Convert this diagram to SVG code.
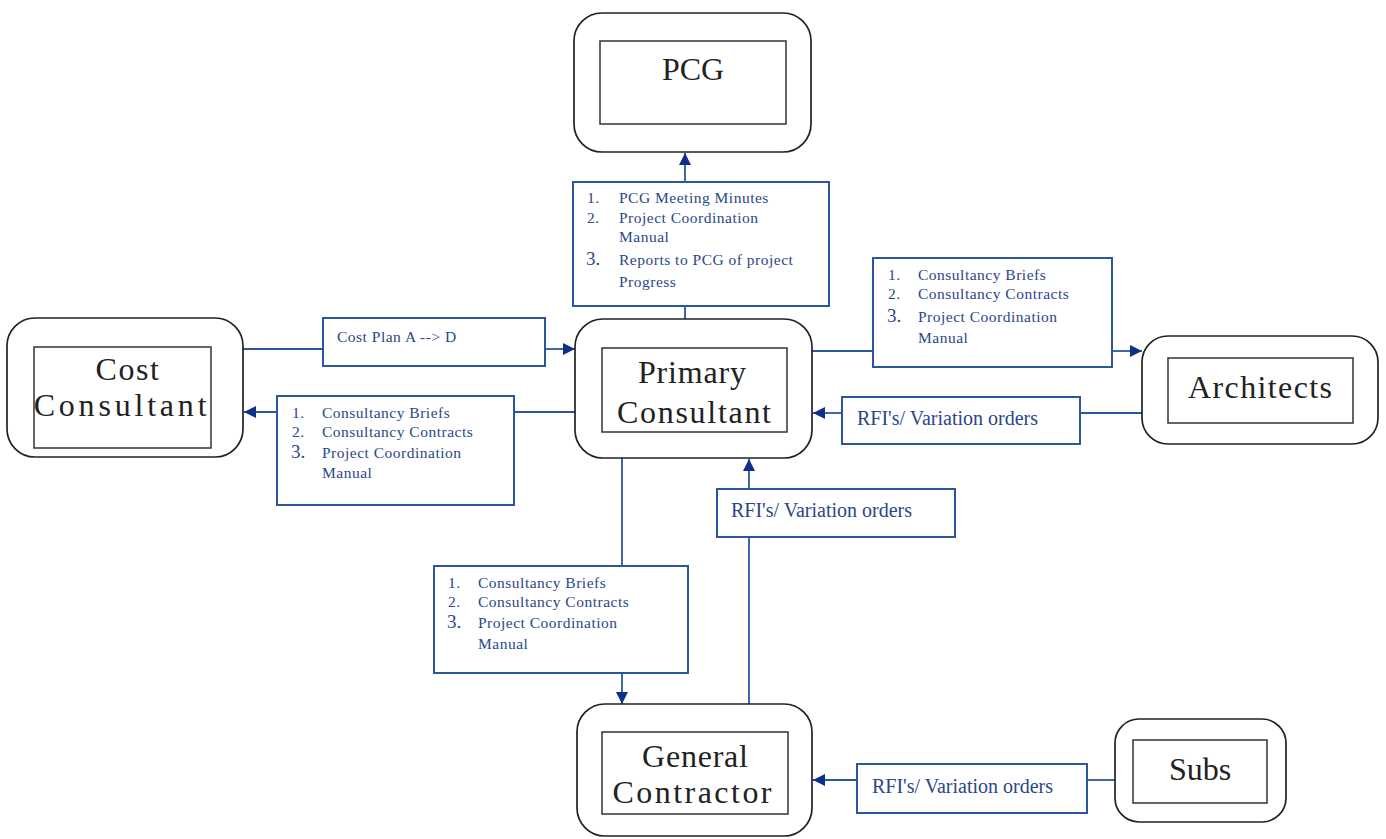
<svg xmlns="http://www.w3.org/2000/svg" width="1386" height="839" viewBox="0 0 1386 839">
<style>
.outer{fill:#fff;stroke:#222;stroke-width:1.7}
.inner{fill:#fff;stroke:#333;stroke-width:1.5}
.nt{font-family:"Liberation Serif",serif;font-size:32px;fill:#222;text-anchor:middle}
.lb{fill:#fff;stroke:#2a56a0;stroke-width:2}
.lt{font-family:"Liberation Serif",serif;font-size:15.5px;fill:#2a4789;letter-spacing:0.5px}
.n3{font-size:19px;letter-spacing:0}
.rt{font-family:"Liberation Serif",serif;font-size:20px;fill:#2a4789}
.cn{stroke:#2a56a0;stroke-width:1.8;fill:none}
</style>
<defs>
<marker id="ah" markerWidth="14" markerHeight="14" refX="12" refY="6" orient="auto" markerUnits="userSpaceOnUse">
<path d="M0,0 L12,6 L0,12 Z" fill="#0f2f8c"/>
</marker>
</defs>
<rect width="1386" height="839" fill="#fff"/>
<g id="connectors">
<line class="cn" x1="685" y1="182" x2="685" y2="153" marker-end="url(#ah)"/>
<line class="cn" x1="685" y1="319" x2="685" y2="306"/>
<line class="cn" x1="243" y1="349" x2="323" y2="349"/>
<line class="cn" x1="545" y1="349" x2="575" y2="349" marker-end="url(#ah)"/>
<line class="cn" x1="575" y1="412" x2="514" y2="412"/>
<line class="cn" x1="277" y1="412" x2="244" y2="412" marker-end="url(#ah)"/>
<line class="cn" x1="812" y1="351" x2="873" y2="351"/>
<line class="cn" x1="1112" y1="351" x2="1142" y2="351" marker-end="url(#ah)"/>
<line class="cn" x1="1142" y1="413" x2="1080" y2="413"/>
<line class="cn" x1="842" y1="413" x2="813" y2="413" marker-end="url(#ah)"/>
<line class="cn" x1="622" y1="458" x2="622" y2="566"/>
<line class="cn" x1="622" y1="673" x2="622" y2="704" marker-end="url(#ah)"/>
<line class="cn" x1="749" y1="704" x2="749" y2="537"/>
<line class="cn" x1="749" y1="489" x2="749" y2="459" marker-end="url(#ah)"/>
<line class="cn" x1="1115" y1="780" x2="1087" y2="780"/>
<line class="cn" x1="857" y1="780" x2="813" y2="780" marker-end="url(#ah)"/>
</g>
<g id="pcg">
<rect class="outer" x="574" y="13" width="237" height="139" rx="28"/>
<rect class="inner" x="600" y="41" width="186" height="83"/>
<text class="nt" x="693" y="80" font-size="34">PCG</text>
</g>
<g id="cost-consultant">
<rect class="outer" x="7" y="318" width="236" height="139" rx="28"/>
<rect class="inner" x="34" y="347" width="177" height="101"/>
<text class="nt" x="128" y="380" font-size="28" letter-spacing="1.6">Cost</text>
<text class="nt" x="122" y="416" font-size="28" letter-spacing="3.8">Consultant</text>
</g>
<g id="primary-consultant">
<rect class="outer" x="575" y="319" width="237" height="139" rx="28"/>
<rect class="inner" x="602" y="348" width="185" height="84"/>
<text class="nt" x="692" y="383" textLength="108" lengthAdjust="spacing">Primary</text>
<text class="nt" x="694" y="423" textLength="154" lengthAdjust="spacing">Consultant</text>
</g>
<g id="architects">
<rect class="outer" x="1142" y="336" width="236" height="108" rx="26"/>
<rect class="inner" x="1168" y="358" width="185" height="65"/>
<text class="nt" x="1260" y="398" textLength="144" lengthAdjust="spacing">Architects</text>
</g>
<g id="general-contractor">
<rect class="outer" x="577" y="704" width="235" height="132" rx="28"/>
<rect class="inner" x="602" y="732" width="186" height="82"/>
<text class="nt" x="695" y="767" textLength="106" lengthAdjust="spacing">General</text>
<text class="nt" x="692" y="803" textLength="159" lengthAdjust="spacing">Contractor</text>
</g>
<g id="subs">
<rect class="outer" x="1115" y="719" width="171" height="103" rx="24"/>
<rect class="inner" x="1133" y="740" width="134" height="63"/>
<text class="nt" x="1200" y="780" font-size="34">Subs</text>
</g>
<g id="label-pcg">
<rect class="lb" x="573" y="182" width="256" height="124"/>
<text class="lt" x="587" y="203">1.</text><text class="lt" x="619" y="203">PCG Meeting Minutes</text>
<text class="lt" x="587" y="223">2.</text><text class="lt" x="619" y="223">Project Coordination</text>
<text class="lt" x="619" y="242">Manual</text>
<text class="lt n3" x="586" y="265">3.</text><text class="lt" x="619" y="265">Reports to PCG of project</text>
<text class="lt" x="619" y="287">Progress</text>
</g>
<g id="label-cost-plan">
<rect class="lb" x="323" y="318" width="222" height="48"/>
<text class="lt" x="337" y="342">Cost Plan A --&gt; D</text>
</g>
<g id="label-cost-briefs">
<rect class="lb" x="277" y="396" width="237" height="109"/>
<text class="lt" x="292" y="418">1.</text><text class="lt" x="322" y="418">Consultancy Briefs</text>
<text class="lt" x="292" y="437">2.</text><text class="lt" x="322" y="437">Consultancy Contracts</text>
<text class="lt n3" x="291" y="458">3.</text><text class="lt" x="322" y="458">Project Coordination</text>
<text class="lt" x="322" y="478">Manual</text>
</g>
<g id="label-arch-briefs">
<rect class="lb" x="873" y="258" width="239" height="109"/>
<text class="lt" x="888" y="280">1.</text><text class="lt" x="918" y="280">Consultancy Briefs</text>
<text class="lt" x="888" y="299">2.</text><text class="lt" x="918" y="299">Consultancy Contracts</text>
<text class="lt n3" x="887" y="322">3.</text><text class="lt" x="918" y="322">Project Coordination</text>
<text class="lt" x="918" y="343">Manual</text>
</g>
<g id="label-arch-rfi">
<rect class="lb" x="842" y="397" width="238" height="47"/>
<text class="rt" x="857" y="425">RFI's/ Variation orders</text>
</g>
<g id="label-gc-briefs">
<rect class="lb" x="434" y="566" width="254" height="107"/>
<text class="lt" x="448" y="588">1.</text><text class="lt" x="478" y="588">Consultancy Briefs</text>
<text class="lt" x="448" y="607">2.</text><text class="lt" x="478" y="607">Consultancy Contracts</text>
<text class="lt n3" x="447" y="628">3.</text><text class="lt" x="478" y="628">Project Coordination</text>
<text class="lt" x="478" y="649">Manual</text>
</g>
<g id="label-gc-rfi">
<rect class="lb" x="717" y="489" width="238" height="48"/>
<text class="rt" x="731" y="517">RFI's/ Variation orders</text>
</g>
<g id="label-subs-rfi">
<rect class="lb" x="857" y="764" width="230" height="49"/>
<text class="rt" x="872" y="793" font-size="19">RFI's/ Variation orders</text>
</g>
</svg>
